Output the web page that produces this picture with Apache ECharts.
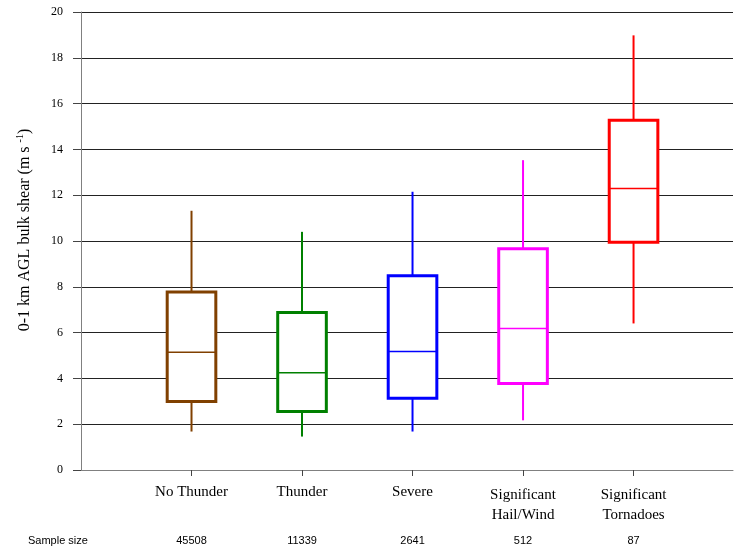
<!DOCTYPE html>
<html>
<head>
<meta charset="utf-8">
<title>0-1 km AGL bulk shear by storm category</title>
<script src="https://cdn.jsdelivr.net/npm/echarts@6/dist/echarts.min.js"></script>
<style>
  html, body { margin: 0; padding: 0; background: #ffffff; }
  #chart { width: 734px; height: 550px; }
</style>
</head>
<body>
<div id="chart"></div>
<script>
// Storm categories and their sample sizes
const categories = ['No Thunder', 'Thunder', 'Severe', 'Significant\nHail/Wind', 'Significant\nTornadoes'];
const sampleSizes = [45508, 11339, 2641, 512, 87];
const boxColors = ['#804000', '#008000', '#0000ff', '#ff00ff', '#ff0000'];

// Box-and-whisker statistics, 0-1 km AGL bulk shear (m/s)
const whiskerLow  = [1.68, 1.46, 1.68, 2.17, 6.40];
const quartile1   = [2.99, 2.55, 3.13, 3.78, 9.95];
const medians     = [5.14, 4.25, 5.18, 6.18, 12.29];
const quartile3   = [7.77, 6.88, 8.48, 9.66, 15.27];
const whiskerHigh = [11.32, 10.40, 12.15, 13.53, 18.98];

// Value axis ticks
const yMin = 0, yMax = 20, yStep = 2;

const positions = categories.map((_, i) => i + 1);
const boxData = categories.map((_, i) => [
  positions[i], whiskerLow[i], quartile1[i], medians[i], quartile3[i], whiskerHigh[i], i
]);

const SERIF = '"Liberation Serif", "Times New Roman", serif';
const SANS = '"Liberation Sans", Arial, sans-serif';

function renderBox(params, api) {
  const x = api.value(0);
  const lo = api.coord([x, api.value(1)]);
  const q1 = api.coord([x, api.value(2)]);
  const md = api.coord([x, api.value(3)]);
  const q3 = api.coord([x, api.value(4)]);
  const hi = api.coord([x, api.value(5)]);
  const color = boxColors[api.value(6)];
  const half = api.size([0.44, 0])[0] / 2;
  const cx = q1[0];
  return {
    type: 'group',
    children: [
      { type: 'line', shape: { x1: cx, y1: q3[1], x2: cx, y2: hi[1] },
        style: { stroke: color, lineWidth: 2 } },
      { type: 'line', shape: { x1: cx, y1: q1[1], x2: cx, y2: lo[1] },
        style: { stroke: color, lineWidth: 2 } },
      { type: 'rect', shape: { x: cx - half, y: q3[1], width: half * 2, height: q1[1] - q3[1] },
        style: { stroke: color, fill: '#ffffff', lineWidth: 3 } },
      { type: 'line', shape: { x1: cx - half, y1: md[1], x2: cx + half, y2: md[1] },
        style: { stroke: color, lineWidth: 1.5 } }
    ]
  };
}

const chart = echarts.init(document.getElementById('chart'), null, { renderer: 'canvas' });

chart.setOption({
  animation: false,
  backgroundColor: '#ffffff',
  grid: { left: 81, right: 1, top: 12, bottom: 80, containLabel: false, outerBoundsMode: 'none' },
  xAxis: {
    type: 'value',
    min: 0,
    max: 5.9,
    splitLine: { show: false },
    axisLine: { show: true, lineStyle: { color: '#808080', width: 1 } },
    axisTick: { show: true, length: 6, customValues: positions, lineStyle: { color: '#444' } },
    axisLabel: {
      show: true,
      customValues: positions,
      margin: 12,
      color: '#000',
      formatter: function (v) {
        const i = Math.round(v) - 1;
        if (i < 0 || i >= categories.length) return '';
        const parts = categories[i].split('\n');
        if (parts.length > 1) {
          return '{a|' + parts[0] + '}\n{b|' + parts[1] + '}\n{s|' + sampleSizes[i] + '}';
        }
        return '{c|' + parts[0] + '}\n{d| }\n{s|' + sampleSizes[i] + '}';
      },
      rich: {
        a: { fontFamily: SERIF, fontSize: 15, lineHeight: 26, color: '#000' },
        b: { fontFamily: SERIF, fontSize: 15, lineHeight: 14, color: '#000' },
        c: { fontFamily: SERIF, fontSize: 15, lineHeight: 20, color: '#000' },
        d: { fontFamily: SERIF, fontSize: 15, lineHeight: 20, color: '#000' },
        s: { fontFamily: SANS, fontSize: 11, lineHeight: 38, color: '#000' }
      }
    }
  },
  yAxis: {
    type: 'value',
    min: yMin,
    max: yMax,
    interval: yStep,
    name: '{a|0-1 km AGL bulk shear (m s }{sup|-1}{a|)}',
    nameLocation: 'middle',
    nameGap: 46,
    nameTextStyle: {
      padding: [0, 0, 0, 22],
      rich: {
        a: { fontFamily: SERIF, fontSize: 16, lineHeight: 20, color: '#000' },
        sup: { fontFamily: SERIF, fontSize: 10, lineHeight: 20, verticalAlign: 'top', color: '#000' }
      }
    },
    axisLine: { show: true, lineStyle: { color: '#808080', width: 1 } },
    axisTick: { show: true, inside: false, length: 8, lineStyle: { color: '#444' } },
    axisLabel: { margin: 18, color: '#000', fontFamily: SERIF, fontSize: 12 },
    splitLine: { show: true, lineStyle: { color: '#222', width: 1 } }
  },
  graphic: [
    { type: 'text', left: 28, top: 535,
      style: { text: 'Sample size', font: '11px ' + SANS, fill: '#000' } }
  ],
  series: [{
    type: 'custom',
    renderItem: renderBox,
    encode: { x: 0, y: [1, 2, 3, 4, 5] },
    data: boxData,
    clip: false
  }]
});
</script>
</body>
</html>
